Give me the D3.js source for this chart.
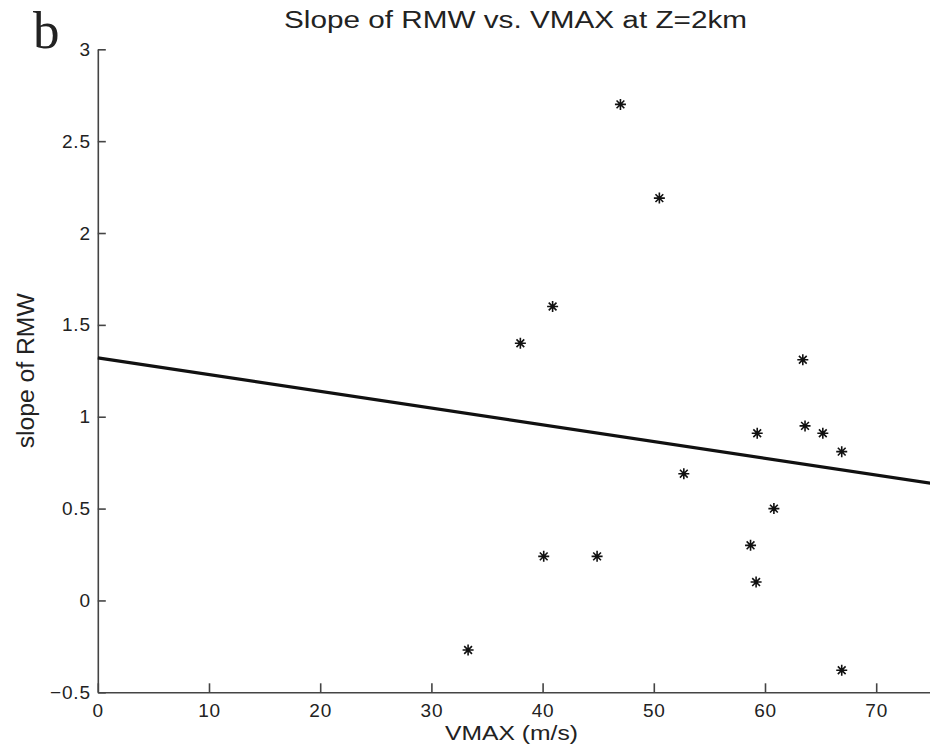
<!DOCTYPE html>
<html>
<head>
<meta charset="utf-8">
<script src="https://cdn.jsdelivr.net/npm/d3@7"></script>
<style>
  html, body { margin: 0; padding: 0; background: #fff; }
  svg { display: block; }
  text { font-family: "Liberation Sans", Arial, sans-serif; fill: #222; }
</style>
</head>
<body>
<svg id="chart" width="930" height="753"></svg>
<script>
// ---- data ----
const vmax  = [47.0, 50.5, 40.9, 38.0, 40.1, 44.9, 33.3, 63.4, 63.6, 59.3, 65.2, 66.9, 52.7, 60.8, 58.7, 59.2, 66.9];
const slope = [2.70, 2.19, 1.60, 1.40, 0.24, 0.24, -0.27, 1.31, 0.95, 0.91, 0.91, 0.81, 0.69, 0.50, 0.30, 0.10, -0.38];
const fitX  = [0, 75];
const fitY  = [1.32, 0.637];
const xTicks = [0, 10, 20, 30, 40, 50, 60, 70];
const yTicks = [-0.5, 0, 0.5, 1, 1.5, 2, 2.5, 3];
const titleText = "Slope of RMW vs. VMAX at Z=2km";
const xLabel = "VMAX (m/s)";
const yLabel = "slope of RMW";
const panelLabel = "b";

const svg = d3.select("#chart");
const x = d3.scaleLinear().domain([0, 75]).range([97.8, 931.8]);
const y = d3.scaleLinear().domain([-0.5, 3]).range([692.3, 49.3]);

const axisColor = "#444";

// x axis
const gx = svg.append("g").attr("transform", `translate(0,${y(-0.5)})`)
  .call(d3.axisBottom(x).tickValues(xTicks).tickSizeInner(-9).tickSizeOuter(0).tickPadding(11)
        .tickFormat(d3.format("d")));
gx.select(".domain").attr("stroke", axisColor).attr("stroke-width", 1.6);
gx.selectAll(".tick line").attr("stroke", axisColor).attr("stroke-width", 1.6);
gx.selectAll(".tick text").style("font-size", "19px").style("letter-spacing", "0.8px").attr("fill", "#222");

// y axis
const fmtY = d => d === -0.5 ? "\u22120.5" : String(d);
const gy = svg.append("g").attr("transform", `translate(${x(0)},0)`)
  .call(d3.axisLeft(y).tickValues(yTicks).tickSizeInner(-8).tickSizeOuter(0).tickPadding(7)
        .tickFormat(fmtY));
gy.select(".domain").attr("stroke", axisColor).attr("stroke-width", 1.6);
gy.selectAll(".tick line").attr("stroke", axisColor).attr("stroke-width", 1.6);
gy.selectAll(".tick text").style("font-size", "19px").style("letter-spacing", "0.8px").attr("fill", "#222");

// regression line
svg.append("line")
  .attr("x1", x(fitX[0])).attr("y1", y(fitY[0]))
  .attr("x2", x(fitX[1])).attr("y2", y(fitY[1]))
  .attr("stroke", "#111").attr("stroke-width", 3.2);

// asterisk markers (8 spokes)
function asterisk(r) {
  const d = r * Math.SQRT1_2;
  return `M${-r},0L${r},0M0,${-r}L0,${r}M${-d},${-d}L${d},${d}M${-d},${d}L${d},${-d}`;
}
svg.append("g").selectAll("path").data(vmax.map((v, i) => [v, slope[i]])).join("path")
  .attr("transform", d => `translate(${x(d[0])},${y(d[1])})`)
  .attr("d", asterisk(5.5))
  .attr("stroke", "#111").attr("stroke-width", 1.6).attr("fill", "none");

// title
svg.append("text").attr("x", 515.5).attr("y", 28).attr("text-anchor", "middle")
  .attr("textLength", 463).attr("lengthAdjust", "spacingAndGlyphs")
  .style("font-size", "23px").text(titleText);

// axis labels
svg.append("text").attr("x", 511.5).attr("y", 740).attr("text-anchor", "middle")
  .attr("textLength", 133).attr("lengthAdjust", "spacingAndGlyphs")
  .style("font-size", "21px").text(xLabel);
svg.append("text").attr("transform", "translate(34,370.8) rotate(-90)").attr("text-anchor", "middle")
  .attr("textLength", 155).attr("lengthAdjust", "spacingAndGlyphs")
  .style("font-size", "23px").text(yLabel);

// panel label
svg.append("text").attr("x", 33).attr("y", 48)
  .style("font-family", "'Liberation Serif', 'DejaVu Serif', serif")
  .style("font-size", "53px").attr("fill", "#111").text(panelLabel);
</script>
</body>
</html>
